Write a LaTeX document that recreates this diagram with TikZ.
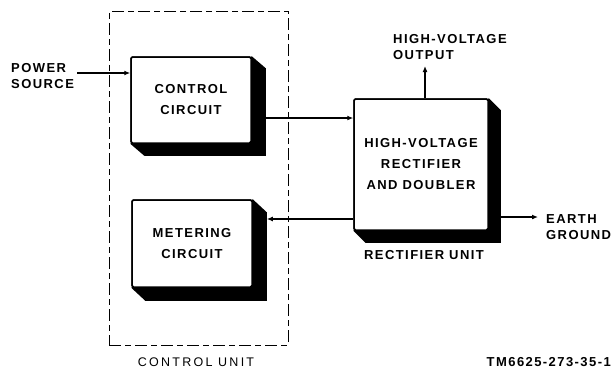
\documentclass[tikz,border=0pt]{standalone}
\usepackage{fontspec}
\setmainfont{Liberation Sans}
\newfontfamily\lbl[LetterSpace=11]{Liberation Sans Bold}
\newfontfamily\lbllight[LetterSpace=18]{Liberation Sans}
\usetikzlibrary{arrows.meta,calc}
\begin{document}
\begin{tikzpicture}[x=1pt,y=-1pt,
  blk/.style={draw,line width=1.5pt,fill=white,rounded corners=1.5pt,align=center,
    font=\lbl\fontsize{13}{21}\selectfont},
  txt/.style={align=left,font=\lbl\fontsize{13}{16.5}\selectfont,inner sep=0pt},
  lighttxt/.style={font=\lbllight\fontsize{12.5}{14}\selectfont,inner sep=0pt},
  wire/.style={line width=1.2pt},
  arr/.style={wire,-{Latex[length=6pt,width=5pt]}},
  dashbox/.style={draw,line width=1pt,dash pattern=on 12pt off 4pt on 6pt off 4pt}]
\useasboundingbox (0,0) rectangle (612,369);
% control unit dashed box
\node[dashbox,minimum width=179,minimum height=333,inner sep=0pt] (cu) at (198.5,178.5) {};
% shadows
\newcommand\boxshadow[3]{%
  \fill (#1.north east) -- ++(#2,#3) -- ([shift={(#2,#3)}]#1.south east)
     -- ([shift={(#2,#3)}]#1.south west) -- (#1.south west) -- cycle;}
\node[blk,minimum width=120,minimum height=86] (ctrl) at (191,100) {CONTROL\\CIRCUIT};
\node[blk,minimum width=120,minimum height=87] (meter) at (192,243.5) {METERING\\CIRCUIT};
\node[blk,minimum width=134,minimum height=131] (rect) at (421,164.5) {HIGH-VOLTAGE\\RECTIFIER\\AND DOUBLER};
\boxshadow{ctrl}{14}{12}
\boxshadow{meter}{14}{13}
\boxshadow{rect}{12}{12}
\node[blk,minimum width=120,minimum height=86] at (191,100) {CONTROL\\CIRCUIT};
\node[blk,minimum width=120,minimum height=87] at (192,243.5) {METERING\\CIRCUIT};
\node[blk,minimum width=134,minimum height=131] at (421,164.5) {HIGH-VOLTAGE\\RECTIFIER\\AND DOUBLER};
% labels
\node[txt,anchor=west] (ps) at (11,76) {POWER\\SOURCE};
\node[txt,anchor=south west] (hvo) at (393,60) {HIGH-VOLTAGE\\OUTPUT};
\node[txt,anchor=west] (eg) at (546,227) {EARTH\\GROUND};
\node[txt] (ru) at (424,255) {RECTIFIER UNIT};
\node[lighttxt] (cul) at (196,362) {CONTROL UNIT};
\node[txt,anchor=east] (tm) at (611,362) {TM6625-273-35-1};
% connectors
\coordinate (psend) at (77,73);
\draw[arr] (psend) -- (ctrl.west |- psend);
\coordinate (c1) at ([shift={(14,18)}]ctrl.east);
\draw[arr] (c1) -- (rect.west |- c1);
\coordinate (m1) at ([shift={(14,-24.5)}]meter.east);
\draw[arr] (rect.west |- m1) -- (m1);
\coordinate (hv) at ([xshift=4]rect.north);
\coordinate (hvtop) at (hv |- 0,66);
\draw[arr] (hv) -- (hvtop);
\coordinate (e1) at ([shift={(12,52.5)}]rect.east);
\coordinate (e2) at (538,217);
\draw[arr] (e1) -- (e2);
\end{tikzpicture}
\end{document}
